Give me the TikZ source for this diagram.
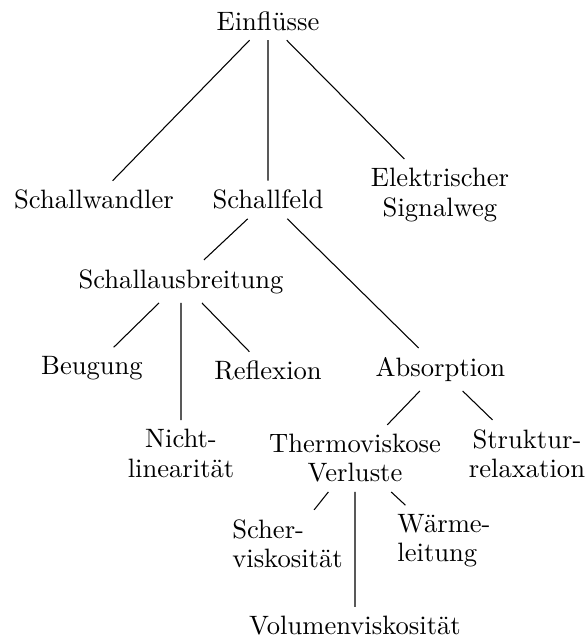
\documentclass[tikz,border=0pt]{standalone}
\usepackage{fontspec}
\usepackage{tikz}
\usetikzlibrary{positioning}

\begin{document}
\begin{tikzpicture}[x=0.376pt, y=-0.376pt,
            lbl/.style={inner sep=0.333em, font=\fontsize{10pt}{11pt}\selectfont},
            lblc/.style={lbl, align=center},
            lbll/.style={lbl, align=left},
            ed/.style={draw=black, line width=0.4pt}]
            \useasboundingbox (0,0) rectangle (587,641);
            % root and first level
            \node[lbl] (einfl) at (268,21.3) {Einflüsse};
            \node[lbl] (wandl) at (94,199.8) {Schallwandler};
            \node[lbl] (feld) at (268,199.8) {Schallfeld};
            \node[lblc] (signal) at (440,195) {Elektrischer\\Signalweg};
            % sound field
            \node[lbl] (ausbr) at (181,281.4) {Schallausbreitung};
            \node[lbl] (absorp) at (440.5,369.5) {Absorption};
            \node[lbl] (beug) at (92,368.5) {Beugung};
            \node[lbl] (refl) at (268,370.8) {Reflexion};
            \node[lblc] (nlin) at (181,453.5) {Nicht-\\linearität};
            % absorption
            \node[lblc] (thermo) at (355,458.4) {Thermoviskose\\Verluste};
            \node[lblc] (struk) at (527,453.4) {Struktur-\\relaxation};
            \node[lbll] (scher) at (287.5,543.4) {Scher-\\viskosität};
            \node[lbll] (waerme) at (444,541) {Wärme-\\leitung};
            \node[lbl] (volum) at (355,625.9) {Volumenviskosität};
            \draw[ed] (einfl)--(wandl) (einfl)--(feld) (einfl)--(signal);
            \draw[ed] (feld)--(ausbr) (feld)--(absorp);
            \draw[ed] (ausbr)--(beug) (ausbr)--(nlin) (ausbr)--(refl);
            \draw[ed] (absorp)--(thermo) (absorp)--(struk);
            \draw[ed] (thermo)--(scher) (thermo)--(volum) (thermo)--(waerme);
        \end{tikzpicture}
\end{document}
